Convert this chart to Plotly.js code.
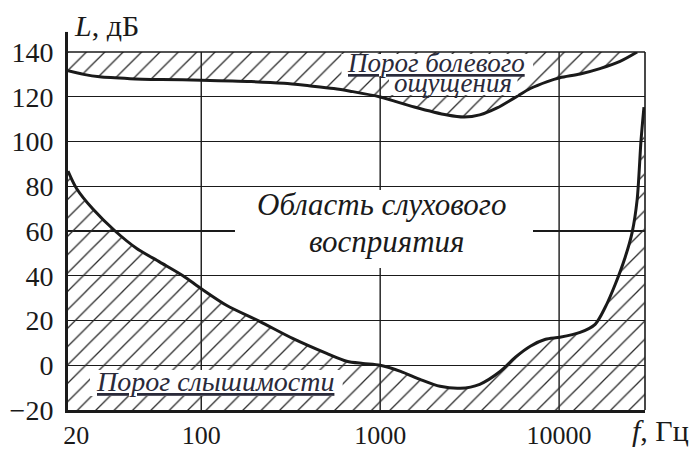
<!DOCTYPE html>
<html>
<head>
<meta charset="utf-8">
<script src="https://cdn.plot.ly/plotly-3.0.1.min.js"></script>
<style>html,body{margin:0;padding:0;background:#fff}</style>
</head>
<body>
<div id="chart" style="width:697px;height:450px"></div>
<script>
// Frequency range of the plot (Hz) and level range (dB)
var fMin = 18.0, fMax = 30200;
var yMin = -20, yMax = 140;

// Pain threshold ("Порог болевого ощущения")
var painFreq  = [18.0, 22, 27, 40, 60, 100, 190, 290, 400, 550, 680, 1000, 1550, 2370, 2950, 3600, 4500, 5600, 6900, 8600, 10100, 13100, 16900, 21900, 27300];
var painLevel = [131.6, 130.0, 128.9, 128.1, 127.7, 127.4, 126.8, 126.0, 124.9, 123.7, 122.5, 119.9, 115.4, 111.8, 110.9, 111.9, 115.0, 119.4, 123.7, 126.8, 128.5, 130.2, 132.6, 135.8, 140];

// Hearing threshold ("Порог слышимости")
var hearFreq  = [18.0, 20.1, 24.8, 33, 43.6, 58.7, 79, 100, 139, 212, 324, 502, 650, 800, 1000, 1300, 1670, 2160, 2800, 3600, 4700, 5700, 6900, 8400, 10100, 13100, 15900, 18100, 20600, 23400, 25600, 27300, 28700, 29800];
var hearLevel = [86.8, 79.0, 69.8, 60.0, 52.2, 46.1, 40.0, 34.2, 26.7, 19.6, 12.0, 5.3, 1.8, 0.8, 0.0, -2.7, -6.3, -9.4, -10.3, -8.5, -2.7, 3.6, 8.5, 11.6, 12.5, 14.7, 18.3, 25.9, 36.2, 48.3, 59.4, 74.0, 100.6, 115.4];

// Axis ticks
var xTickVals = [20, 100, 1000, 10000];
var xTickText = ['20', '100', '1000', '10000'];
var xGridVals = [100, 1000, 10000];
var yTickVals = [-20, 0, 20, 40, 60, 80, 100, 120, 140];

var INK = '#1a1a1a';
var hatch = {shape: '/', fgcolor: '#2a2a2a', bgcolor: 'rgba(0,0,0,0)', size: 13, solidity: 0.1, fillmode: 'replace'};

var traces = [
  {x: [fMin, fMax], y: [yMax, yMax], mode: 'lines', line: {width: 0}, hoverinfo: 'skip', showlegend: false},
  {x: painFreq, y: painLevel, mode: 'lines', line: {color: INK, width: 3, shape: 'spline', smoothing: 0.8},
   fill: 'tonexty', fillcolor: 'rgba(0,0,0,0)', fillpattern: hatch, showlegend: false, hoverinfo: 'skip'},
  {x: [fMin, fMax], y: [yMin, yMin], mode: 'lines', line: {width: 0}, hoverinfo: 'skip', showlegend: false},
  {x: hearFreq, y: hearLevel, mode: 'lines', line: {color: INK, width: 3, shape: 'spline', smoothing: 0.8},
   fill: 'tonexty', fillcolor: 'rgba(0,0,0,0)', fillpattern: hatch, showlegend: false, hoverinfo: 'skip'}
];

var shapes = [];
xGridVals.forEach(function (v) {
  shapes.push({type: 'line', xref: 'x', yref: 'paper', x0: v, x1: v, y0: 0, y1: 1, layer: 'below',
               line: {color: INK, width: 1.4}});
});
function whiteRect(x0, x1, y0, y1) {
  return {type: 'rect', xref: 'paper', yref: 'paper', x0: x0, x1: x1, y0: y0, y1: y1, layer: 'above',
          fillcolor: '#ffffff', line: {width: 0}};
}
shapes.push(whiteRect(0.2894, 0.8059, 0.3966, 0.6145));
shapes.push(whiteRect(0.4740, 0.8060, 0.933, 0.9944));
shapes.push(whiteRect(0.5563, 0.7790, 0.8799, 0.933));
shapes.push(whiteRect(0.0381, 0.4760, 0.0391, 0.1117));
// frame top / right
shapes.push({type: 'line', xref: 'paper', yref: 'paper', x0: 0, x1: 1, y0: 1, y1: 1, layer: 'above', line: {color: INK, width: 1.6}});
shapes.push({type: 'line', xref: 'paper', yref: 'paper', x0: 1, x1: 1, y0: 0, y1: 1, layer: 'above', line: {color: INK, width: 1.6}});
// y axis extension above the plot
shapes.push({type: 'line', xref: 'paper', yref: 'paper', x0: -0.0026, x1: -0.0026, y0: 1, y1: 1.056, layer: 'above', line: {color: INK, width: 3}});

var serif = '"Liberation Serif", "Times New Roman", serif';
var LBL = '#2a2a3a';
var annotations = [
  {xref: 'paper', yref: 'paper', x: 0.5433, y: 0.5754, xanchor: 'center', yanchor: 'middle', showarrow: false,
   text: '<i>Область слухового</i>', font: {family: serif, size: 31, color: INK}},
  {xref: 'paper', yref: 'paper', x: 0.5520, y: 0.4693, xanchor: 'center', yanchor: 'middle', showarrow: false,
   text: '<i>восприятия</i>', font: {family: serif, size: 31, color: INK}},
  {xref: 'paper', yref: 'paper', x: 0.6386, y: 0.968, xanchor: 'center', yanchor: 'middle', showarrow: false,
   text: '<i><u>Порог болевого</u></i>', font: {family: serif, size: 27, color: LBL}},
  {xref: 'paper', yref: 'paper', x: 0.6681, y: 0.9123, xanchor: 'center', yanchor: 'middle', showarrow: false,
   text: '<i>ощущения</i>', font: {family: serif, size: 27, color: LBL}},
  {xref: 'paper', yref: 'paper', x: 0.2539, y: 0.0799, xanchor: 'center', yanchor: 'middle', showarrow: false,
   text: '<i><u>Порог слышимости</u></i>', font: {family: serif, size: 28, color: LBL}},
  {xref: 'paper', yref: 'paper', x: 0.0070, y: 1.074, xanchor: 'left', yanchor: 'middle', showarrow: false,
   text: '<i>L</i>, дБ', font: {family: serif, size: 30, color: INK}},
  {xref: 'paper', yref: 'paper', x: 1.0277, y: -0.0573, xanchor: 'center', yanchor: 'middle', showarrow: false,
   text: '<i>f</i>, Гц', font: {family: serif, size: 30, color: INK}}
];

var layout = {
  width: 697, height: 450,
  margin: {l: 68, r: 52, t: 52, b: 40},
  paper_bgcolor: '#ffffff', plot_bgcolor: '#ffffff',
  showlegend: false,
  xaxis: {type: 'log', range: [Math.log10(fMin), Math.log10(fMax)], tickmode: 'array', tickvals: xTickVals, ticktext: xTickText,
          showgrid: false, zeroline: false, showline: true, linecolor: INK, linewidth: 3, ticks: '',
          ticklabelstandoff: 0, tickfont: {family: serif, size: 26, color: INK}, fixedrange: true},
  yaxis: {range: [yMin, yMax], tickmode: 'array', tickvals: yTickVals, showgrid: true, gridcolor: INK, gridwidth: 1.4,
          zeroline: false, showline: true, linecolor: INK, linewidth: 3, ticks: '',
          ticklabelstandoff: 6, tickfont: {family: serif, size: 28, color: INK}, fixedrange: true},
  shapes: shapes,
  annotations: annotations
};

Plotly.newPlot('chart', traces, layout, {displayModeBar: false, staticPlot: true});
</script>
</body>
</html>
